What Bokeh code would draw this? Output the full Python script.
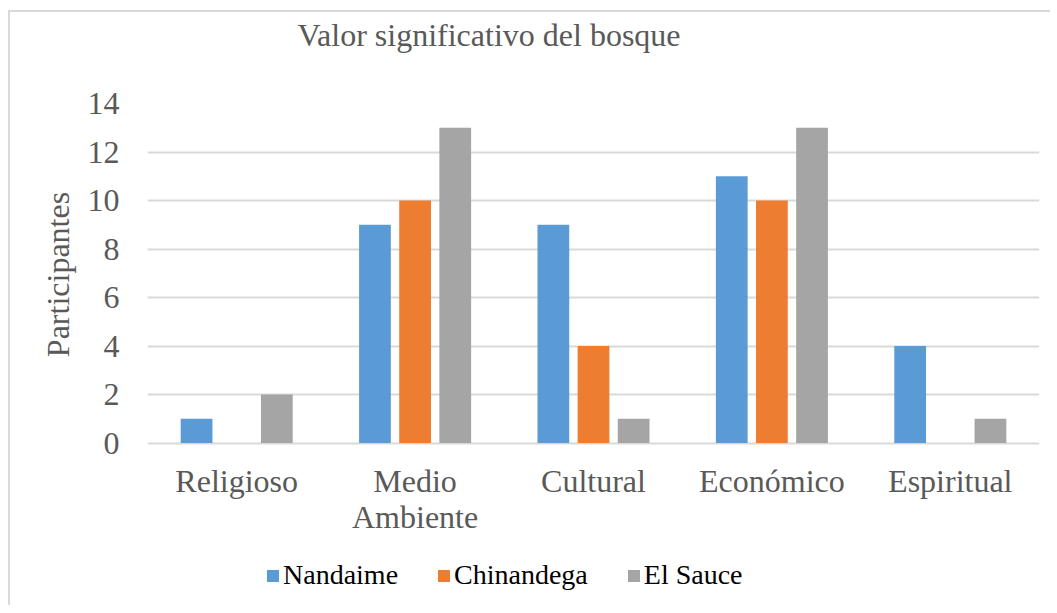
from bokeh.plotting import figure
from bokeh.layouts import column
from bokeh.models import ColumnDataSource, FactorRange, Range1d, Legend, LegendItem, FixedTicker
from bokeh.transform import dodge
from bokeh.core.properties import value
from bokeh.embed import file_html
from bokeh.resources import INLINE

categories = ["Religioso", "Medio Ambiente", "Cultural", "Económico", "Espiritual"]
nandaime = [1, 9, 9, 11, 4]
chinandega = [0, 10, 4, 10, 0]
el_sauce = [2, 13, 1, 13, 1]
series_names = ["Nandaime", "Chinandega", "El Sauce"]
colors = ["#5B9BD5", "#ED7D31", "#A5A5A5"]
y_ticks = [0, 2, 4, 6, 8, 10, 12, 14]
chart_title = "Valor significativo del bosque"

FONT = "Liberation Serif"
GREY_TEXT = "#595959"
W = 1050
LEFT, RIGHT = 147, 11
H_TITLE = 60
H_MAIN = 405
H_BOT = 140

src = ColumnDataSource(dict(cat=categories, Nandaime=nandaime, Chinandega=chinandega, ElSauce=el_sauce))
x_range = FactorRange(factors=categories, range_padding=0)

BORDER_LEFT_TOP = ("linear-gradient(#D9D9D9,#D9D9D9) 8px 10px / 2px 100% no-repeat, "
                   "linear-gradient(#D9D9D9,#D9D9D9) 8px 10px / 100% 2px no-repeat, white")
BORDER_LEFT = "linear-gradient(#D9D9D9,#D9D9D9) 8px 0px / 2px 100% no-repeat, white"


def bare(fig):
    fig.outline_line_color = None
    fig.background_fill_color = None
    fig.border_fill_color = None
    fig.xaxis.visible = False
    fig.yaxis.visible = False
    fig.grid.visible = False


# ---------------- title strip (pixel coordinates) ----------------
t = figure(width=W, height=H_TITLE, x_range=Range1d(LEFT, W - RIGHT), y_range=Range1d(0, H_TITLE),
           output_backend="svg", toolbar_location=None,
           min_border_left=LEFT, min_border_right=RIGHT, min_border_top=0, min_border_bottom=0)
bare(t)
t.styles = {"background": BORDER_LEFT_TOP}
t.text(x=[297], y=[26], text=[chart_title], text_align="left", text_baseline="alphabetic",
       text_font=value(FONT), text_font_size="32px", text_color=GREY_TEXT)

# ---------------- main chart ----------------
p = figure(
    width=W, height=H_MAIN,
    x_range=x_range, y_range=Range1d(-0.1, 14),
    output_backend="svg", toolbar_location=None,
    min_border_left=LEFT, min_border_right=RIGHT, min_border_top=103 - H_TITLE, min_border_bottom=20,
)
p.outline_line_color = None
p.background_fill_color = "white"
p.border_fill_color = None
p.styles = {"background": BORDER_LEFT}

cols = ["Nandaime", "Chinandega", "ElSauce"]
offsets = [-0.225, 0.0, 0.225]
for col, off, c in zip(cols, offsets, colors):
    p.vbar(x=dodge("cat", off, range=x_range), top=col, width=0.178, source=src,
           fill_color=c, line_color=None)

p.yaxis.ticker = FixedTicker(ticks=y_ticks)
p.yaxis.axis_label = "Participantes"
p.yaxis.axis_label_text_font = FONT
p.yaxis.axis_label_text_font_size = "32px"
p.yaxis.axis_label_text_font_style = "normal"
p.yaxis.axis_label_text_color = GREY_TEXT
p.yaxis.axis_label_standoff = 9
p.yaxis.major_label_text_font = FONT
p.yaxis.major_label_text_font_size = "32px"
p.yaxis.major_label_text_color = GREY_TEXT
p.yaxis.major_label_standoff = 22
p.yaxis.axis_line_color = None
p.yaxis.major_tick_line_color = None
p.yaxis.minor_tick_line_color = None

p.xaxis.visible = False
p.xgrid.grid_line_color = None
p.ygrid.grid_line_color = "#D9D9D9"
p.ygrid.grid_line_width = 2

# ---------------- category labels + legend ----------------
q = figure(
    width=W, height=H_BOT,
    x_range=x_range, y_range=Range1d(0, H_BOT),
    output_backend="svg", toolbar_location=None,
    min_border_left=LEFT, min_border_right=RIGHT, min_border_top=0, min_border_bottom=0,
)
bare(q)
q.styles = {"background": BORDER_LEFT}

lab_x, lab_y, lab_t = [], [], []
for cat in categories:
    lines = cat.split(" ") if cat == "Medio Ambiente" else [cat]
    for i, line in enumerate(lines):
        lab_x.append(cat)
        lab_y.append(125 - i * 36)
        lab_t.append(line)
q.text(x=lab_x, y=lab_y, text=lab_t, text_align="center", text_baseline="alphabetic",
       text_font=value(FONT), text_font_size="32px", text_color=GREY_TEXT)

legend_renderers = []
for col, c in zip(cols, colors):
    r = q.vbar(x="cat", top=col, width=0.178, source=src, fill_color=c, line_color=None,
               visible=False)
    legend_renderers.append(r)

legend = Legend(
    items=[LegendItem(label=n, renderers=[r]) for n, r in zip(series_names, legend_renderers)],
    orientation="horizontal", location=(118, 14),
    label_text_font=FONT, label_text_font_size="28px", label_text_color="black",
    glyph_width=15, glyph_height=15, label_height=30, label_standoff=3, spacing=38,
    border_line_color=None, background_fill_alpha=0, padding=0, margin=0,
)
q.add_layout(legend)

layout = column(t, p, q, spacing=0)
open("out.html", "w").write(file_html(layout, INLINE))
